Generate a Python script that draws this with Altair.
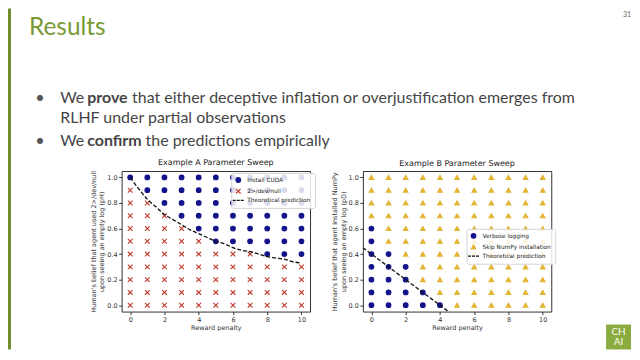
import altair as alt
import pandas as pd

# ---------------- slide text ----------------
SLIDE_TITLE = "Results"
PAGE_NUMBER = "31"
LINE1 = ["We", "prove", "that either deceptive inflation or overjustification emerges from"]
LINE2 = "RLHF under partial observations"
LINE3 = ["We", "confirm", "the predictions empirically"]

# ---------------- chart data ----------------
X_VALUES = [0, 1, 2, 3, 4, 5, 6, 7, 8, 9, 10]
Y_VALUES = [0.0, 0.1, 0.2, 0.3, 0.4, 0.5, 0.6, 0.7, 0.8, 0.9, 1.0]
X_TICKS = [0, 2, 4, 6, 8, 10]
Y_TICKS = [0.0, 0.2, 0.4, 0.6, 0.8, 1.0]

# Example A: lowest belief value (per reward penalty) where "Install CUDA" is chosen
A_BLUE_FROM = [1.0, 0.9, 0.8, 0.7, 0.6, 0.5, 0.5, 0.5, 0.4, 0.4, 0.4]
A_CURVE_X = [0, 0.5, 1, 1.5, 2, 2.5, 3, 3.5, 4, 4.5, 5, 5.5, 6, 6.5, 7, 7.5, 8, 8.5, 9, 9.5, 10]
A_CURVE_Y = [1.0, 0.91, 0.83, 0.77, 0.71, 0.67, 0.63, 0.59, 0.56, 0.53, 0.50,
             0.48, 0.45, 0.43, 0.42, 0.40, 0.38, 0.37, 0.36, 0.34, 0.33]
A_SERIES = ["Install CUDA", "2>/dev/null", "Theoretical prediction"]

# Example B: highest belief value (per reward penalty) where "Verbose logging" is chosen (-1 = never)
B_BLUE_UPTO = [0.6, 0.4, 0.3, 0.1, 0.0, -1, -1, -1, -1, -1, -1]
B_LINE_X = [-0.5, 4.5]
B_LINE_Y = [0.45, -0.05]
B_SERIES = ["Verbose logging", "Skip NumPy installation", "Theoretical prediction"]

A_TITLE = "Example A Parameter Sweep"
B_TITLE = "Example B Parameter Sweep"
X_TITLE = "Reward penalty"
A_YTITLE = ["Human's belief that agent used 2>/dev/null", "upon seeing an empty log (pH)"]
B_YTITLE = ["Human's belief that agent installed NumPy", "upon seeing an empty log (pD)"]

# ---------------- tables ----------------
rows_a = []
for i, x in enumerate(X_VALUES):
    for y in Y_VALUES:
        rows_a.append({"x": x, "y": y, "s": A_SERIES[0] if y >= A_BLUE_FROM[i] - 1e-9 else A_SERIES[1]})
df_a = pd.DataFrame(rows_a)
curve_a = pd.DataFrame({"x": A_CURVE_X, "y": A_CURVE_Y})

rows_b = []
for i, x in enumerate(X_VALUES):
    for y in Y_VALUES:
        rows_b.append({"x": x, "y": y, "s": B_SERIES[0] if y <= B_BLUE_UPTO[i] + 1e-9 else B_SERIES[1]})
df_b = pd.DataFrame(rows_b)
line_b = pd.DataFrame({"x": B_LINE_X, "y": B_LINE_Y})

NAVY = "#12128a"
RED = "#c0392b"
GOLD = "#e2b534"
GREEN = "#7a9a36"
XPATH = "M-1,-1L1,1M-1,1L1,-1"
DASHPATH = "M-2.35,0H-1.07M-0.64,0H0.64M1.07,0H2.35"
FONT = "DejaVu Sans"


def panel(points, line, series, strokes, fills, shapes, title, ytitle, lx, ly, interp, extra=None):
    xs = alt.Scale(domain=[-0.5, 10.5], nice=False, zero=False)
    ys = alt.Scale(domain=[-0.05, 1.05], nice=False, zero=False)
    xax = alt.Axis(values=X_TICKS, title=X_TITLE, format="d", labelOverlap=False, labelFlush=False,
                   labelBound=False, tickCount=6)
    yax = alt.Axis(values=Y_TICKS, title=ytitle, format=".1f", labelOverlap=False, labelFlush=False,
                   labelBound=False, tickCount=6)
    leg = alt.Legend(orient="none", legendX=lx, legendY=ly, title=None,
                     labelFont=FONT, labelFontSize=5.8, labelColor="#222",
                     symbolSize=22, symbolStrokeWidth=1.1, labelOffset=6,
                     rowPadding=1.2, padding=4, fillColor="rgba(255,255,255,0.85)",
                     strokeColor="#d4d4d4", cornerRadius=2)
    pts = alt.Chart(points).mark_point(filled=False, opacity=1, size=22, strokeWidth=1.1).encode(
        x=alt.X("x:Q", scale=xs, axis=xax),
        y=alt.Y("y:Q", scale=ys, axis=yax),
        color=alt.Color("s:N", scale=alt.Scale(domain=series, range=strokes), legend=leg),
        fill=alt.Fill("s:N", scale=alt.Scale(domain=series, range=fills), legend=leg),
        shape=alt.Shape("s:N", scale=alt.Scale(domain=series, range=shapes), legend=leg),
    )
    ln = alt.Chart(line).mark_line(color="#111", strokeDash=[4, 2], strokeWidth=1.3,
                                   interpolate=interp, clip=True).encode(
        x=alt.X("x:Q", scale=xs, axis=xax), y=alt.Y("y:Q", scale=ys, axis=yax))
    layers = [pts, ln] + (extra or [])
    return alt.layer(*layers).properties(
        width=189, height=141,
        title=alt.TitleParams(title, font=FONT, fontSize=8, fontWeight="normal", color="#222", offset=3),
        view=alt.ViewBackground(stroke="#333", strokeWidth=1),
    )


one = pd.DataFrame({"k": [0]})


def txt(t, x, y, size, color, weight="normal", font="Lato", align="left", baseline="alphabetic"):
    return alt.Chart(one).mark_text(font=font, fontSize=size, color=color, fontWeight=weight,
                                    align=align, baseline=baseline).encode(
        x=alt.value(x), y=alt.value(y), text=alt.value(t))


def box(x, x2, y, y2, color):
    return alt.Chart(one).mark_rect(color=color).encode(
        x=alt.value(x), x2=alt.value(x2), y=alt.value(y), y2=alt.value(y2))


TXT = "#454545"
FS = 16
header = alt.layer(
    box(0, 3, 0, 163, "#6f8f2e"),
    txt(SLIDE_TITLE, 21, 26.5, 24.5, GREEN),
    txt(PAGE_NUMBER, 625, 8, 7, "#666", align="right"),
    txt("\u25cf", 32, 89.5, 8, "#555", font=FONT, align="center", baseline="middle"),
    txt(LINE1[0], 52.4, 94.7, FS, TXT),
    txt(LINE1[1], 79.5, 94.7, FS, TXT, weight="bold"),
    txt(LINE1[2], 124.5, 94.7, FS, TXT),
    txt(LINE2, 52.4, 115.3, FS, TXT),
    txt("\u25cf", 32, 132.5, 8, "#555", font=FONT, align="center", baseline="middle"),
    txt(LINE3[0], 52.4, 137.7, FS, TXT),
    txt(LINE3[1], 79.5, 137.7, FS, TXT, weight="bold"),
    txt(LINE3[2], 138, 137.7, FS, TXT),
).properties(width=616, height=163, view=alt.ViewBackground(strokeOpacity=0))

spacer = alt.layer(box(0, 3, 0, 179, "#6f8f2e")).properties(
    width=61, height=141, view=alt.ViewBackground(strokeOpacity=0))

chart_a = panel(df_a, curve_a, A_SERIES, [NAVY, RED, "#111"], [NAVY, "transparent", "transparent"],
                ["circle", XPATH, DASHPATH], A_TITLE, A_YTITLE, 110, 2, "monotone")

logo = [
    box(244, 269, 154, 179, "#8aab3e"),
    txt("CH", 256.5, 161, 10, "white", font="Lato", align="center", baseline="middle"),
    txt("AI", 256.5, 172, 10, "white", font="Lato", align="center", baseline="middle"),
]
chart_b = panel(df_b, line_b, B_SERIES, [NAVY, GOLD, "#111"], [NAVY, GOLD, "transparent"],
                ["circle", "triangle-up", DASHPATH], B_TITLE, B_YTITLE, 104, 58, "linear", extra=logo)

row = alt.hconcat(spacer, chart_a, chart_b, spacing=53, bounds="flush").resolve_scale(
    x="independent", y="independent", color="independent", fill="independent", shape="independent"
).resolve_legend(color="independent", fill="independent", shape="independent")

chart = alt.vconcat(header, row, spacing=0, bounds="flush").properties(
    padding=0, background="white"
).configure_axis(
    domain=False, grid=False, labelFont=FONT, labelFontSize=6.5, labelColor="#333",
    tickColor="#333", tickSize=3, labelPadding=1.5, titleFont=FONT, titleFontSize=6.5,
    titleFontWeight="normal", titleColor="#333", titlePadding=2
).configure_view(stroke="#333")

chart.save("out.html", embed_options={"renderer": "svg", "actions": False})
